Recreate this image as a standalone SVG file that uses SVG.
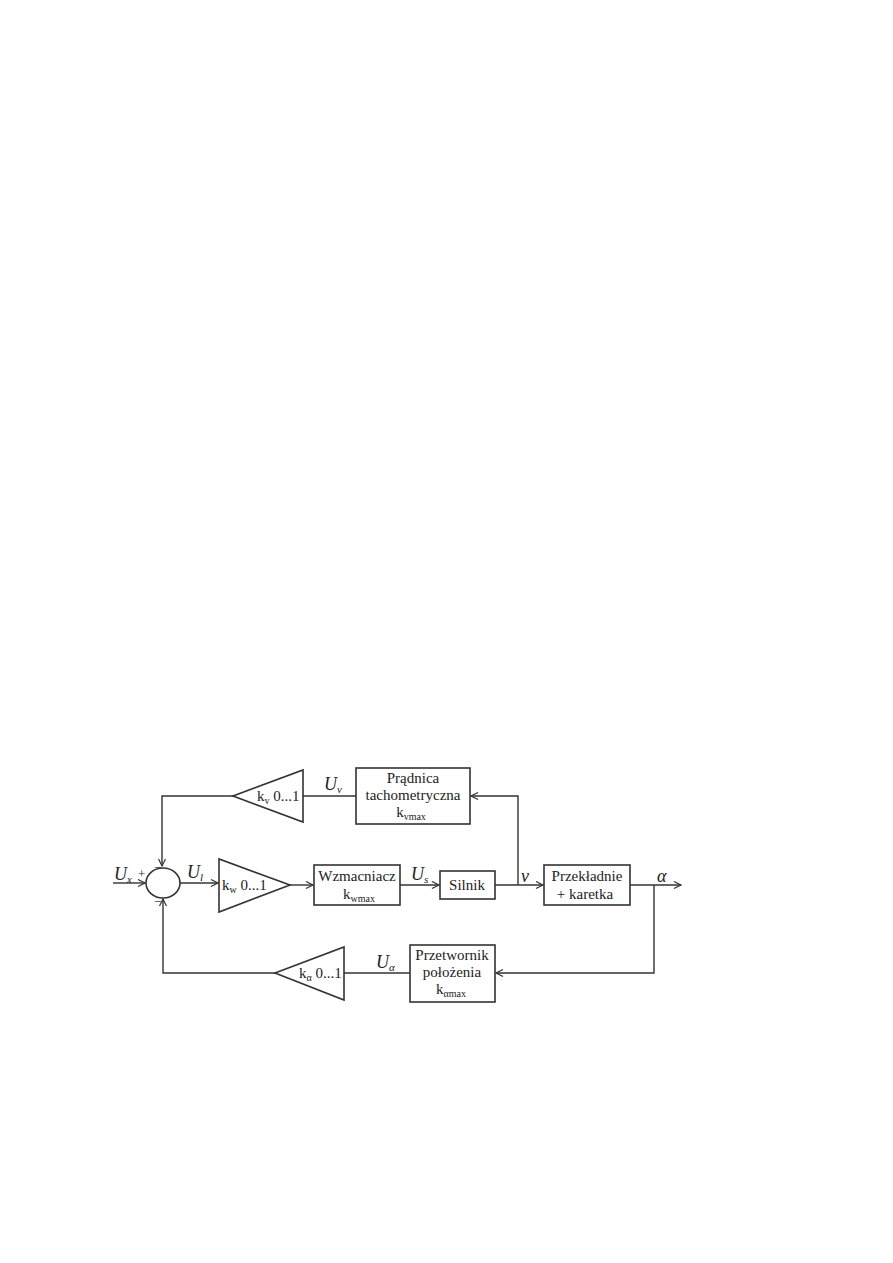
<svg xmlns="http://www.w3.org/2000/svg" width="893" height="1263" viewBox="0 0 893 1263">
<defs>
<marker id="arr" markerWidth="10" markerHeight="10" refX="8" refY="4" orient="auto" markerUnits="userSpaceOnUse">
<path d="M1,0.5 L8,4 L1,7.5" fill="none" stroke="#333" stroke-width="1.2"/>
</marker>
</defs>
<style>
.ln{fill:none;stroke:#333;stroke-width:1.4}
.bx{fill:#fff;stroke:#333;stroke-width:1.6}
.t{font-family:"Liberation Serif",serif;font-size:15px;fill:#222;text-anchor:middle}
.tl{font-family:"Liberation Serif",serif;font-size:15px;fill:#222;text-anchor:start}
.s{font-size:10px}
.v{font-family:"Liberation Serif",serif;font-style:italic;font-size:18px;fill:#222}
.vs{font-family:"Liberation Serif",serif;font-style:italic;font-size:11px;fill:#222}
.sg{font-family:"Liberation Serif",serif;font-size:13px;fill:#222}
</style>
<rect width="893" height="1263" fill="#fff"/>
<g id="connectors">
<polyline class="ln" points="233,796 162,796 162,866" marker-end="url(#arr)"/>
<line class="ln" x1="303" y1="796" x2="356" y2="796"/>
<polyline class="ln" points="518,885 518,796 471,796" marker-end="url(#arr)"/>
<line class="ln" x1="113" y1="883" x2="145" y2="883" marker-end="url(#arr)"/>
<line class="ln" x1="180" y1="883" x2="218" y2="883" marker-end="url(#arr)"/>
<line class="ln" x1="290" y1="885" x2="313" y2="885" marker-end="url(#arr)"/>
<line class="ln" x1="400" y1="885" x2="439" y2="885" marker-end="url(#arr)"/>
<line class="ln" x1="495" y1="885" x2="543" y2="885" marker-end="url(#arr)"/>
<line class="ln" x1="630" y1="885" x2="681" y2="885" marker-end="url(#arr)"/>
<polyline class="ln" points="654,885 654,973 496,973" marker-end="url(#arr)"/>
<line class="ln" x1="410" y1="973" x2="344" y2="973"/>
<polyline class="ln" points="275,973 163,973 163,899" marker-end="url(#arr)"/>
</g>
<g id="sum">
<ellipse class="bx" cx="163" cy="883" rx="17" ry="15"/>
<text class="sg" x="138" y="878">+</text>
<text class="sg" x="154" y="872">−</text>
<text class="sg" x="154" y="906">−</text>
</g>
<g id="Ux"><text class="v" x="114" y="880">U</text><text class="vs" x="127" y="883">x</text></g>
<g id="Ul"><text class="v" x="187" y="878">U</text><text class="vs" x="200" y="881">l</text></g>
<g id="Us"><text class="v" x="411" y="880">U</text><text class="vs" x="424" y="883">s</text></g>
<g id="Uv"><text class="v" x="324" y="790">U</text><text class="vs" x="337" y="793">v</text></g>
<g id="Ua"><text class="v" x="376" y="968">U</text><text class="vs" x="389" y="971">α</text></g>
<g id="vlab"><text class="v" x="521" y="882">ν</text></g>
<g id="alab"><text class="v" x="657" y="882">α</text></g>
<g id="ky">
<polygon class="bx" points="303,770 303,822 233,796"/>
<text class="tl" x="257" y="801">k<tspan class="s" dy="3">v</tspan><tspan dy="-3"> 0...1</tspan></text>
</g>
<g id="pradnica">
<rect class="bx" x="356" y="768" width="114" height="56"/>
<text class="t" x="413" y="783">Prądnica</text>
<text class="t" x="413" y="800">tachometryczna</text>
<text class="t" x="411" y="817">k<tspan class="s" dy="3">vmax</tspan></text>
</g>
<g id="kw">
<polygon class="bx" points="219,859 219,912 290,885"/>
<text class="tl" x="222" y="890">k<tspan class="s" dy="3">w</tspan><tspan dy="-3"> 0...1</tspan></text>
</g>
<g id="wzmacniacz">
<rect class="bx" x="314" y="865" width="86" height="40"/>
<text class="t" x="357" y="881">Wzmacniacz</text>
<text class="t" x="359" y="899">k<tspan class="s" dy="3">wmax</tspan></text>
</g>
<g id="silnik">
<rect class="bx" x="440" y="871" width="55" height="28"/>
<text class="t" x="467" y="890">Silnik</text>
</g>
<g id="przekladnie">
<rect class="bx" x="544" y="865" width="86" height="40"/>
<text class="t" x="587" y="881">Przekładnie</text>
<text class="t" x="585" y="899">+ karetka</text>
</g>
<g id="przetwornik">
<rect class="bx" x="410" y="945" width="85" height="57"/>
<text class="t" x="452" y="960">Przetwornik</text>
<text class="t" x="452" y="977">położenia</text>
<text class="t" x="451" y="994">k<tspan class="s" dy="3">αmax</tspan></text>
</g>
<g id="ka">
<polygon class="bx" points="344,947 344,1000 275,973"/>
<text class="tl" x="299" y="978">k<tspan class="s" dy="3">α</tspan><tspan dy="-3"> 0...1</tspan></text>
</g>
</svg>
